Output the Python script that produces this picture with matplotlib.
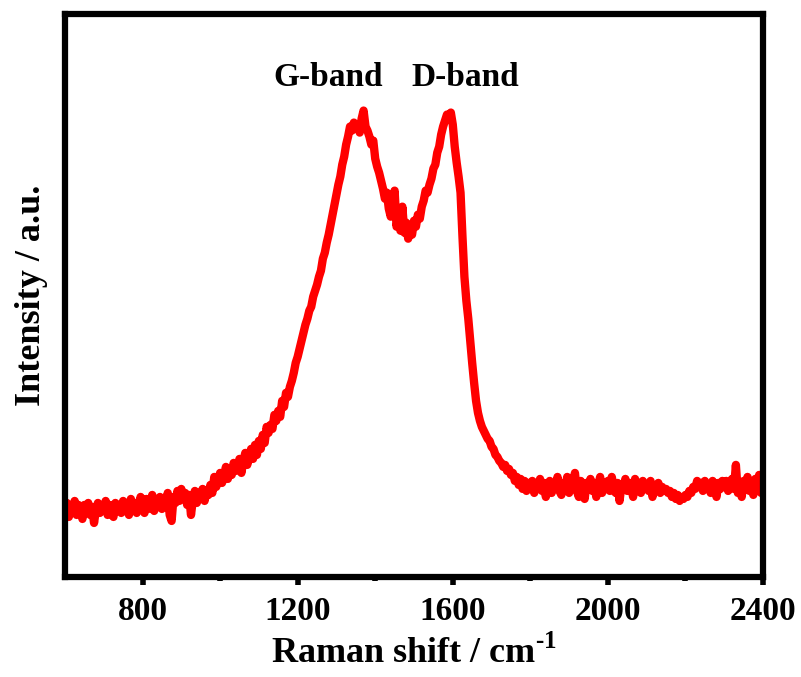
#!/usr/bin/env python3

import numpy as np
import matplotlib

matplotlib.use("Agg")
import matplotlib.pyplot as plt

# Raman shift (cm-1), one reading every 5 cm-1
shift = np.arange(600, 2401, 5)

# Intensity (a.u.)
intensity = [
    64, 74, 60, 70, 66, 76, 62, 72, 68, 58,            # 600-645
    72, 64, 74, 62, 70, 54, 68, 74, 64, 70,            # 650-695
    66, 76, 62, 72, 68, 60, 74, 66, 72, 64,            # 700-745
    76, 66, 70, 62, 78, 68, 74, 64, 72, 80,            # 750-795
    70, 64, 78, 68, 74, 82, 66, 76, 70, 80,            # 800-845
    68, 78, 72, 84, 62, 56, 80, 74, 86, 76,            # 850-895
    88, 78, 84, 72, 82, 62, 78, 86, 74, 84,            # 900-945
    80, 88, 76, 86, 82, 92, 84, 100, 90, 96,           # 950-995
    104, 94, 100, 110, 98, 108, 102, 114, 106, 110,    # 1000-1045
    118, 104, 116, 124, 112, 120, 128, 118, 132, 122,  # 1050-1095
    136, 128, 142, 134, 150, 144, 152, 148, 162, 156,  # 1100-1145
    166, 160, 176, 170, 184, 180, 190, 196, 204, 214,  # 1150-1195
    220, 228, 236, 244, 252, 258, 266, 270, 280, 286,  # 1200-1245
    292, 300, 306, 318, 324, 334, 342, 352, 362, 372,  # 1250-1295
    382, 392, 400, 412, 420, 432, 440, 450, 446, 454,  # 1300-1345
    448, 452, 444, 458, 466, 450, 446, 440, 432, 436,  # 1350-1395
    418, 410, 404, 396, 388, 378, 384, 368, 360, 372,  # 1400-1445
    386, 350, 362, 346, 370, 344, 354, 338, 348, 342,  # 1450-1495
    356, 350, 362, 358, 370, 376, 386, 384, 392, 398,  # 1500-1545
    408, 412, 424, 430, 442, 450, 456, 462, 460, 464,  # 1550-1595
    452, 430, 414, 400, 384, 340, 300, 276, 258, 236,  # 1600-1645
    214, 194, 176, 164, 156, 150, 146, 142, 138, 136,  # 1650-1695
    130, 128, 122, 120, 116, 114, 110, 112, 106, 108,  # 1700-1745
    102, 104, 96, 100, 92, 98, 88, 96, 86, 94,         # 1750-1795
    88, 96, 84, 92, 90, 98, 86, 94, 80, 92,            # 1800-1845
    96, 84, 92, 88, 100, 86, 82, 94, 88, 100,          # 1850-1895
    84, 94, 90, 104, 86, 80, 96, 88, 78, 94,           # 1900-1945
    90, 98, 86, 94, 80, 92, 100, 84, 92, 88,           # 1950-1995
    96, 86, 100, 90, 84, 94, 76, 92, 88, 98,           # 2000-2045
    86, 94, 90, 80, 98, 88, 92, 84, 96, 88,            # 2050-2095
    92, 86, 96, 80, 90, 88, 94, 84, 90, 86,            # 2100-2145
    88, 84, 86, 80, 84, 78, 82, 76, 80, 78,            # 2150-2195
    82, 80, 86, 84, 90, 88, 96, 90, 94, 86,            # 2200-2245
    96, 88, 92, 84, 96, 90, 80, 94, 88, 96,            # 2250-2295
    90, 96, 86, 92, 98, 88, 112, 84, 94, 80,           # 2300-2345
    96, 88, 100, 86, 94, 82, 98, 90, 102, 84,          # 2350-2395
    92,                                                # 2400
]

band_labels = ["G-band", "D-band"]
band_pos = [1280, 1632]

plt.rcParams["font.family"] = ["Liberation Serif", "DejaVu Serif"]
plt.rcParams["font.weight"] = "bold"
plt.rcParams["mathtext.fontset"] = "custom"
plt.rcParams["mathtext.rm"] = "Liberation Serif:bold"
plt.rcParams["mathtext.bf"] = "Liberation Serif:bold"

fig = plt.figure(figsize=(8.01, 6.77), dpi=100)
ax = fig.add_axes([0.0811, 0.1477, 0.8715, 0.8309])

ax.plot(shift, intensity, color="#ff0000", linewidth=6, solid_joinstyle="round")

ax.set_xlim(600, 2400)
ax.set_ylim(0, 562)

ax.set_xticks([800, 1200, 1600, 2000, 2400])
ax.set_xticks([1000, 1400, 1800, 2200], minor=True)
ax.set_yticks([])
ax.tick_params(axis="x", which="major", direction="out", length=6, width=4,
               pad=8, labelsize=24)
ax.tick_params(axis="x", which="minor", direction="out", length=3, width=4)
for lbl in ax.get_xticklabels():
    lbl.set_fontweight("bold")

for sp in ax.spines.values():
    sp.set_linewidth(4.5)

ax.set_xlabel("Raman shift / cm$^{\\text{-1}}$", fontsize=26, fontweight="bold",
              labelpad=6)
ax.set_ylabel("Intensity / a.u.", fontsize=26, fontweight="bold", labelpad=12)

for name, xpos in zip(band_labels, band_pos):
    ax.text(xpos, 499, name, ha="center", va="center", fontsize=24,
            fontweight="bold")

fig.savefig("out.png", dpi=100)
